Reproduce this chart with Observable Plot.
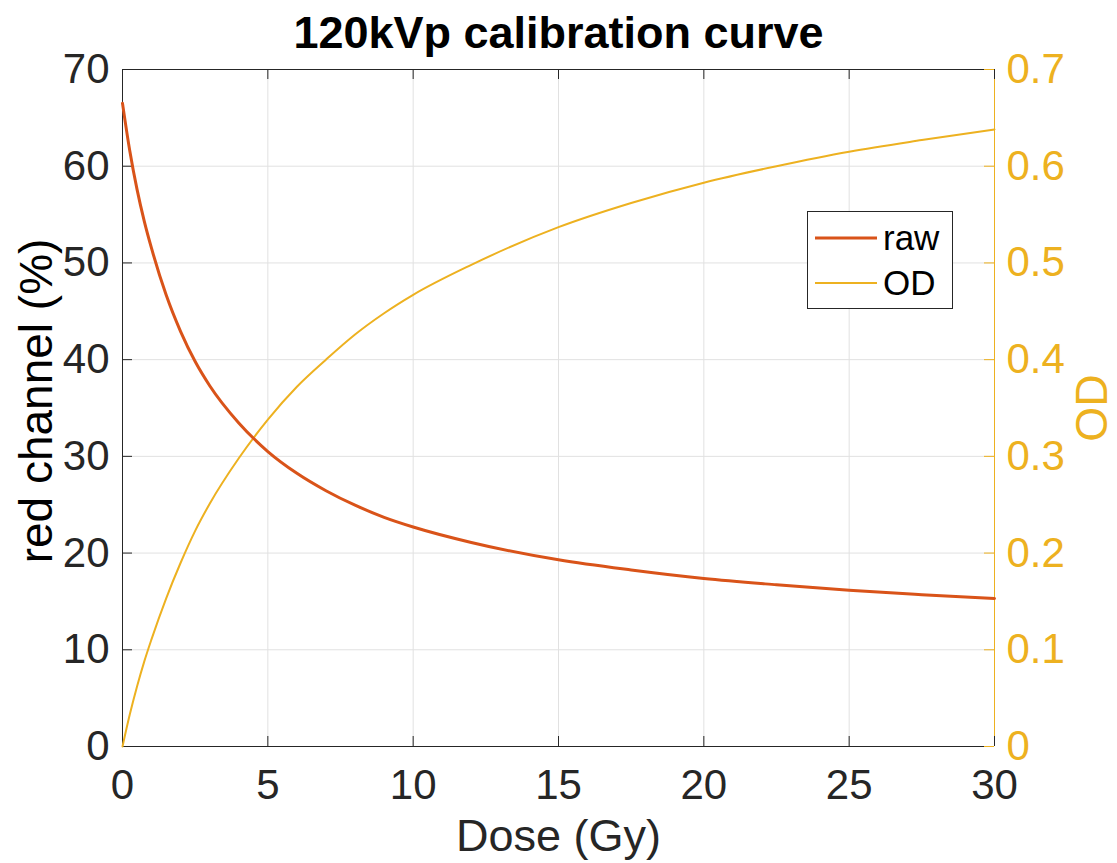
<!DOCTYPE html>
<html><head><meta charset="utf-8">
<script src="https://cdn.jsdelivr.net/npm/d3@7"></script>
<script src="https://cdn.jsdelivr.net/npm/@observablehq/plot@0.6"></script>
<style>
body{margin:0;background:#fff;font-family:"Liberation Sans",Arial,sans-serif;}
#wrap{position:relative;width:1117px;height:863px;overflow:hidden;}
#title{position:absolute;left:0;top:10px;width:1117px;text-align:center;font-weight:bold;font-size:45px;line-height:45px;color:#000;}
#legend{position:absolute;left:807px;top:211px;width:144px;height:96px;border:1px solid #262626;background:#fff;}
.lg{position:absolute;left:0;width:144px;height:40px;}
.lg svg{position:absolute;left:7px;top:0;}
.lg span{position:absolute;left:75px;top:0;font-size:35px;line-height:40px;color:#000;}
</style></head><body>
<div id="wrap"><div id="chart"></div><div id="title"></div><div id="legend"></div></div>
<script>
const title = "120kVp calibration curve";
const xLabel = "Dose (Gy)";
const yLeftLabel = "red channel (%)";
const yRightLabel = "OD";
const seriesNames = ["raw", "OD"];
const seriesColors = ["#D95319", "#EDB120"];
const dose = [0, 0.25, 0.5, 0.75, 1, 1.5, 2, 2.5, 3, 4, 5, 6, 7, 8, 9, 10, 12, 15, 17.5, 20, 22.5, 25, 27.5, 30];
const rawChannel = [66.5, 61.6, 57.6, 54.3, 51.5, 46.7, 42.9, 39.8, 37.3, 33.45, 30.5, 28.25, 26.45, 24.95, 23.7, 22.7, 21.1, 19.3, 18.25, 17.37, 16.72, 16.15, 15.7, 15.3];
const opticalDensity = [0, 0.033, 0.062, 0.088, 0.111, 0.153, 0.190, 0.223, 0.251, 0.298, 0.338, 0.372, 0.400, 0.426, 0.448, 0.467, 0.498, 0.537, 0.562, 0.583, 0.600, 0.615, 0.627, 0.638];
const xTicks = [0, 5, 10, 15, 20, 25, 30];
const yLeftTicks = [0, 10, 20, 30, 40, 50, 60, 70];
const yRightTicks = [0, 0.1, 0.2, 0.3, 0.4, 0.5, 0.6, 0.7];

const odScale = yLeftTicks[yLeftTicks.length - 1] / yRightTicks[yRightTicks.length - 1];
const rawData = dose.map((d, i) => ({dose: d, v: rawChannel[i]}));
const odData = dose.map((d, i) => ({dose: d, v: opticalDensity[i] * odScale}));
const rightTickPos = yRightTicks.map(v => v * odScale);
const dark = "#262626";
const grid = "#e1e1e1";
const xMin = xTicks[0], xMax = xTicks[xTicks.length - 1];
const yMin = yLeftTicks[0], yMax = yLeftTicks[yLeftTicks.length - 1];

const chart = Plot.plot({
  width: 1117, height: 863,
  marginLeft: 122, marginRight: 123, marginTop: 69, marginBottom: 117,
  style: {fontFamily: "'Liberation Sans', Arial, sans-serif", background: "#fff", overflow: "visible"},
  x: {domain: [xMin, xMax], label: null},
  y: {domain: [yMin, yMax], label: null},
  marks: [
    Plot.gridX(xTicks.slice(1, -1), {stroke: grid, strokeOpacity: 1}),
    Plot.gridY(yLeftTicks.slice(1, -1), {stroke: grid, strokeOpacity: 1}),
    Plot.ruleY([yMin, yMax], {stroke: dark, strokeWidth: 1}),
    Plot.ruleX([xMin], {stroke: dark, strokeWidth: 1}),
    Plot.ruleX([xMax], {stroke: seriesColors[1], strokeWidth: 1}),
    Plot.tickY(yLeftTicks, {y: d => d, stroke: dark, insetRight: 862}),
    Plot.tickY(rightTickPos, {y: d => d, stroke: seriesColors[1], insetLeft: 862}),
    Plot.tickX(xTicks, {x: d => d, stroke: dark, insetTop: 667}),
    Plot.tickX(xTicks, {x: d => d, stroke: dark, insetBottom: 667}),
    Plot.axisX(xTicks, {anchor: "bottom", tickSize: 0, tickPadding: 23, fontSize: 42, color: dark, label: null}),
    Plot.axisY(yLeftTicks, {anchor: "left", tickSize: 0, tickPadding: 13, fontSize: 42, color: dark, label: null}),
    Plot.axisY(rightTickPos, {anchor: "right", tickSize: 0, tickPadding: 12, fontSize: 42, color: seriesColors[1], label: null,
      tickFormat: v => { const o = v / odScale; return o === 0 ? "0" : o.toFixed(1); }}),
    Plot.text([xLabel], {text: d => d, frameAnchor: "bottom", textAnchor: "middle", lineAnchor: "top", dy: 73, fontSize: 45, fill: dark}),
    Plot.text([yLeftLabel], {text: d => d, frameAnchor: "left", textAnchor: "middle", rotate: -90, lineAnchor: "middle", dx: -85, dy: -7, fontSize: 46, fill: "#000"}),
    Plot.text([yRightLabel], {text: d => d, frameAnchor: "right", textAnchor: "middle", rotate: -90, lineAnchor: "middle", dx: 98, fontSize: 45, fill: seriesColors[1]}),
    Plot.line(odData, {x: "dose", y: "v", stroke: seriesColors[1], strokeWidth: 2, curve: "monotone-x"}),
    Plot.line(rawData, {x: "dose", y: "v", stroke: seriesColors[0], strokeWidth: 3, curve: "monotone-x"})
  ]
});
document.getElementById("chart").appendChild(chart);
document.getElementById("title").textContent = title;

const legend = document.getElementById("legend");
seriesNames.forEach((name, i) => {
  const row = document.createElement("div");
  row.className = "lg";
  row.style.top = (i === 0 ? 6 : 51) + "px";
  row.innerHTML = `<svg width="64" height="40"><line x1="0" x2="62" y1="20" y2="20" stroke="${seriesColors[i]}" stroke-width="${i === 0 ? 3 : 2}"/></svg><span>${name}</span>`;
  legend.appendChild(row);
});
</script>
</body></html>
